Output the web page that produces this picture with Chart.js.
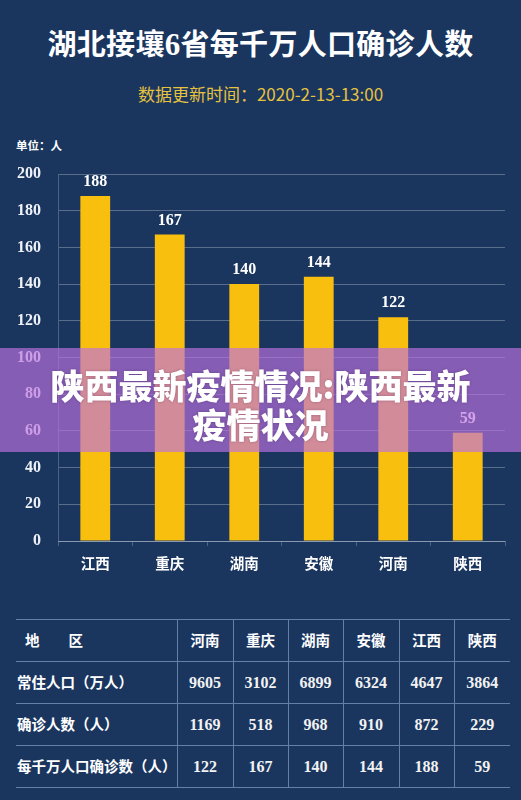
<!DOCTYPE html>
<html>
<head>
<meta charset="utf-8">
<script src="https://cdn.jsdelivr.net/npm/chart.js@4.4.1/dist/chart.umd.min.js"></script>
<style>
  html, body { margin:0; padding:0; }
  body { width:521px; height:800px; background:#1a365f; position:relative; overflow:hidden;
         font-family:"Noto Sans CJK SC", "Noto Sans", sans-serif; color:#fff; }
  .abs { position:absolute; }
  #title { top:44px; left:0; width:521px; text-align:center; transform:translateY(-50%);
           font-size:29px; font-weight:700; line-height:1; letter-spacing:0.3px; }
  #title .num { font-family:"Liberation Serif", serif; font-weight:700; font-size:31px; }
  #subtitle { top:93px; left:0; width:521px; text-align:center; transform:translateY(-50%);
              font-size:17px; color:#e6c23e; line-height:1; }
  #unit { top:146px; left:16px; transform:translateY(-50%); font-size:11.5px; font-weight:700; line-height:1; }
  #chartWrap { top:120px; left:0; width:521px; height:480px; }
  #banner { top:348px; left:0; width:521px; height:104px; background:rgba(189,114,225,0.66); }
  #banner .line { position:absolute; left:0; width:521px; text-align:center; font-size:34px; font-weight:900;
                  line-height:1; color:#fff; transform:translateY(-50%); text-shadow:0 0 3px rgba(60,20,80,0.35); }
  table { position:absolute; top:619px; left:16px; width:494px; border-collapse:collapse; table-layout:fixed; }
  td { height:41px; padding:0; border-top:1px solid rgba(160,190,230,0.55); border-bottom:1px solid rgba(160,190,230,0.55);
       text-align:center; vertical-align:middle; line-height:1; }
  td + td { border-left:1px solid rgba(160,190,230,0.55); }
  td.lab { text-align:left; padding-left:1px; font-size:14.5px; font-weight:700; }
  td.hdr { font-size:14.5px; font-weight:700; }
  td.num { font-family:"Liberation Serif", serif; font-weight:700; font-size:16px; color:#f2f2f2; }
</style>
</head>
<body>
<div id="title" class="abs">湖北接壤<span class="num">6</span>省每千万人口确诊人数</div>
<div id="subtitle" class="abs">数据更新时间：2020-2-13-13:00</div>
<div id="unit" class="abs">单位：人</div>
<div id="chartWrap" class="abs"><canvas id="c" width="521" height="480"></canvas></div>
<table id="tbl"></table>
<div id="banner" class="abs">
  <div class="line" style="top:37px">陕西最新疫情情况:陕西最新</div>
  <div class="line" style="top:76px">疫情状况</div>
</div>
<script>
// ---- data ----
const categories = ['江西', '重庆', '湖南', '安徽', '河南', '陕西'];
const perTenMillion = [188, 167, 140, 144, 122, 59];
const yMin = 0, yMax = 200, yStep = 20;

const tableHeader = ['地　　区', '河南', '重庆', '湖南', '安徽', '江西', '陕西'];
const rowLabels = ['常住人口（万人）', '确诊人数（人）', '每千万人口确诊数（人）'];
const population = [9605, 3102, 6899, 6324, 4647, 3864];
const confirmed = [1169, 518, 968, 910, 872, 229];
const perTenMillionTable = [122, 167, 140, 144, 188, 59];

// ---- table ----
const colWidths = [161, 56, 55, 55, 56, 55, 56];
const tbl = document.getElementById('tbl');
const cg = document.createElement('colgroup');
colWidths.forEach(w => { const c = document.createElement('col'); c.style.width = w + 'px'; cg.appendChild(c); });
tbl.appendChild(cg);
function addRow(label, cells, isHeader) {
  const tr = document.createElement('tr');
  const l = document.createElement('td');
  l.className = 'lab'; l.textContent = label;
  if (isHeader) l.style.paddingLeft = '9px';
  tr.appendChild(l);
  cells.forEach(v => { const td = document.createElement('td'); td.className = isHeader ? 'hdr' : 'num'; td.textContent = v; tr.appendChild(td); });
  tbl.appendChild(tr);
}
addRow(tableHeader[0], tableHeader.slice(1), true);
addRow(rowLabels[0], population, false);
addRow(rowLabels[1], confirmed, false);
addRow(rowLabels[2], perTenMillionTable, false);

// ---- chart ----
const valueLabels = {
  id: 'valueLabels',
  afterDatasetsDraw(chart) {
    const ctx = chart.ctx;
    const meta = chart.getDatasetMeta(0);
    ctx.save();
    ctx.font = 'bold 16px "Liberation Serif", serif';
    ctx.fillStyle = '#ffffff';
    ctx.textAlign = 'center';
    ctx.textBaseline = 'middle';
    meta.data.forEach((bar, i) => {
      ctx.fillText(String(chart.data.datasets[0].data[i]), bar.x, bar.y - 14);
    });
    ctx.restore();
  }
};

new Chart(document.getElementById('c'), {
  type: 'bar',
  data: {
    labels: categories,
    datasets: [{
      data: perTenMillion,
      backgroundColor: '#f9bf0f',
      borderWidth: 0,
      barPercentage: 0.4,
      categoryPercentage: 1.0
    }]
  },
  options: {
    responsive: false,
    animation: false,
    devicePixelRatio: 1,
    layout: { padding: { top: 54, left: 0, right: 16, bottom: 0 } },
    plugins: { legend: { display: false }, tooltip: { enabled: false } },
    scales: {
      x: {
        afterFit(s) { s.height = 59; },
        grid: { display: true, drawOnChartArea: false, drawTicks: true, tickLength: 5, color: 'rgba(255,255,255,0.22)', offset: true },
        border: { display: true, color: 'rgba(255,255,255,0.3)' },
        ticks: { color: '#ffffff', padding: 9, font: { family: '"Noto Sans CJK SC"', size: 14.5, weight: 'bold' } }
      },
      y: {
        min: yMin, max: yMax,
        afterFit(s) { s.width = 58; },
        grid: { color: 'rgba(255,255,255,0.28)', drawTicks: false, lineWidth: 1 },
        border: { display: true, color: 'rgba(255,255,255,0.22)' },
        ticks: { stepSize: yStep, color: '#eef1f6', padding: 17, font: { family: '"Liberation Serif", serif', size: 16, weight: 'bold' } }
      }
    }
  },
  plugins: [valueLabels]
});
</script>
</body>
</html>
